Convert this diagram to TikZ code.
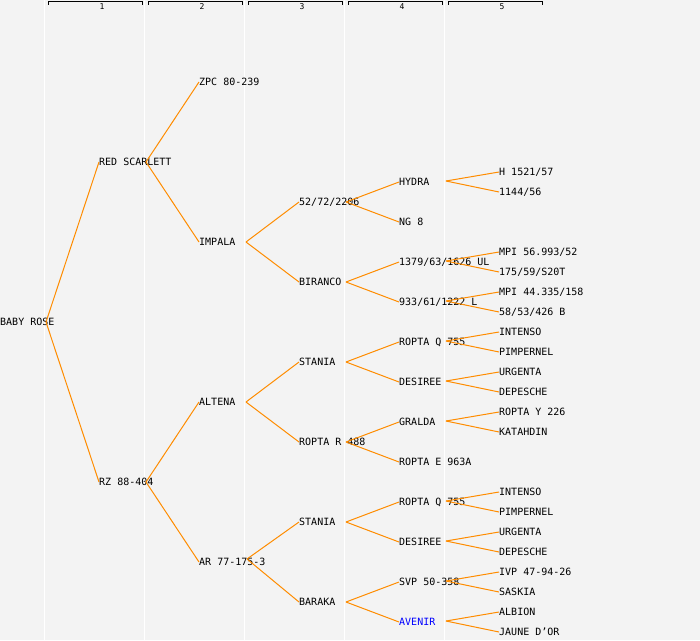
\documentclass[tikz,border=0pt]{standalone}
\usepackage{fontspec}
\setmonofont{DejaVu Sans Mono}
\definecolor{bgcol}{HTML}{F3F3F3}
\definecolor{lineorange}{HTML}{FF8C00}
\begin{document}
\begin{tikzpicture}[x=1pt,y=-1pt,
  lbl/.style={anchor=west,inner sep=0pt,font=\ttfamily\fontsize{10}{10}\selectfont,text height=7.3pt,text depth=0pt},
  hdr/.style={inner sep=0pt,font=\ttfamily\fontsize{8}{8}\selectfont},
  link/.style={draw=lineorange,line width=1pt},
  sep/.style={draw=white,line width=1.2pt},
  brk/.style={draw=black,line width=0.9pt}]
\fill[bgcol] (0,0) rectangle (700,640);
\useasboundingbox (0,0) rectangle (700,640);
% column separators
\foreach \x in {44.5,144.5,244.5,344.5,444.5} \draw[sep] (\x,0) -- (\x,640);
% header brackets and labels
\foreach \a/\n in {48/1,148/2,248/3,348/4,448/5}{
  \draw[brk] (\a,4.5) -- (\a,1.5) -- ({\a+94},1.5) -- ({\a+94},4.5);
  \node[hdr] (col\n) at ({\a+54},6.5) {\n};
}
% generation 0
\node[lbl] (p) at (0,322) {BABY ROSE}; \coordinate (pj) at (46,322);
% generation 1
\node[lbl] (p1) at (99,162) {RED SCARLETT}; \coordinate (p1j) at (146,162);
\node[lbl] (p2) at (99,482) {RZ 88-404}; \coordinate (p2j) at (146,482);
% generation 2
\node[lbl] (p11) at (199,82) {ZPC 80-239};
\node[lbl] (p12) at (199,242) {IMPALA}; \coordinate (p12j) at (246,242);
\node[lbl] (p21) at (199,402) {ALTENA}; \coordinate (p21j) at (246,402);
\node[lbl] (p22) at (199,562) {AR 77-175-3}; \coordinate (p22j) at (247,559);
% generation 3
\node[lbl] (p121) at (299,202) {52/72/2206}; \coordinate (p121j) at (346,202);
\node[lbl] (p122) at (299,282) {BIRANCO}; \coordinate (p122j) at (346,282);
\node[lbl] (p211) at (299,362) {STANIA}; \coordinate (p211j) at (346,362);
\node[lbl] (p212) at (299,442) {ROPTA R 488}; \coordinate (p212j) at (346,442);
\node[lbl] (p221) at (299,522) {STANIA}; \coordinate (p221j) at (346,522);
\node[lbl] (p222) at (299,602) {BARAKA}; \coordinate (p222j) at (346,602);
% generation 4
\node[lbl] (p1211) at (399,182) {HYDRA}; \coordinate (p1211j) at (446,181);
\node[lbl] (p1212) at (399,222) {NG 8};
\node[lbl] (p1221) at (399,262) {1379/63/1626 UL}; \coordinate (p1221j) at (446,261);
\node[lbl] (p1222) at (399,302) {933/61/1222 L}; \coordinate (p1222j) at (446,301);
\node[lbl] (p2111) at (399,342) {ROPTA Q 755}; \coordinate (p2111j) at (446,341);
\node[lbl] (p2112) at (399,382) {DESIREE}; \coordinate (p2112j) at (446,381);
\node[lbl] (p2121) at (399,422) {GRALDA}; \coordinate (p2121j) at (446,421);
\node[lbl] (p2122) at (399,462) {ROPTA E 963A};
\node[lbl] (p2211) at (399,502) {ROPTA Q 755}; \coordinate (p2211j) at (446,501);
\node[lbl] (p2212) at (399,542) {DESIREE}; \coordinate (p2212j) at (446,541);
\node[lbl] (p2221) at (399,582) {SVP 50-358}; \coordinate (p2221j) at (446,581);
\node[lbl,text=blue] (p2222) at (399,622) {AVENIR}; \coordinate (p2222j) at (446,621);
% generation 5
\node[lbl] (p12111) at (499,172) {H 1521/57};
\node[lbl] (p12112) at (499,192) {1144/56};
\node[lbl] (p12211) at (499,252) {MPI 56.993/52};
\node[lbl] (p12212) at (499,272) {175/59/S20T};
\node[lbl] (p12221) at (499,292) {MPI 44.335/158};
\node[lbl] (p12222) at (499,312) {58/53/426 B};
\node[lbl] (p21111) at (499,332) {INTENSO};
\node[lbl] (p21112) at (499,352) {PIMPERNEL};
\node[lbl] (p21121) at (499,372) {URGENTA};
\node[lbl] (p21122) at (499,392) {DEPESCHE};
\node[lbl] (p21211) at (499,412) {ROPTA Y 226};
\node[lbl] (p21212) at (499,432) {KATAHDIN};
\node[lbl] (p22111) at (499,492) {INTENSO};
\node[lbl] (p22112) at (499,512) {PIMPERNEL};
\node[lbl] (p22121) at (499,532) {URGENTA};
\node[lbl] (p22122) at (499,552) {DEPESCHE};
\node[lbl] (p22211) at (499,572) {IVP 47-94-26};
\node[lbl] (p22212) at (499,592) {SASKIA};
\node[lbl] (p22221) at (499,612) {ALBION};
\node[lbl] (p22222) at (499,632) {JAUNE D’OR};
% connectors
\foreach \a in {p,p1,p2,p12,p21,p22,p121,p122,p211,p212,p221,p222,
  p1211,p1221,p1222,p2111,p2112,p2121,p2211,p2212,p2221,p2222}{
  \draw[link] (\a j) -- (\a 1.west);
}
\foreach \a in {p,p1,p2,p12,p21,p22,p121,p122,p211,p212,p221,p222,
  p1211,p1221,p1222,p2111,p2112,p2121,p2211,p2212,p2221,p2222}{
  \draw[link] (\a j) -- (\a 2.west);
}
\end{tikzpicture}
\end{document}
